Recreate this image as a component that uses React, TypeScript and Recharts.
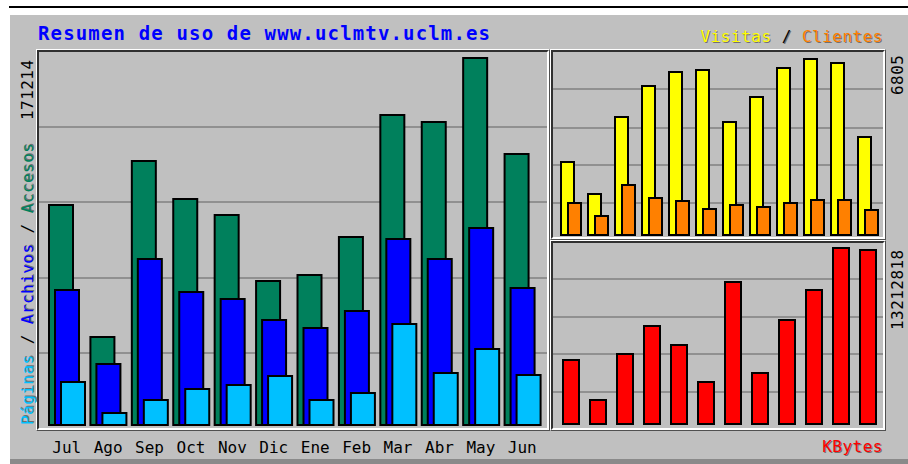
import React from 'react';
import { BarChart, Bar, XAxis, YAxis, CartesianGrid } from 'recharts';

const months = ['Jul', 'Ago', 'Sep', 'Oct', 'Nov', 'Dic', 'Ene', 'Feb', 'Mar', 'Abr', 'May', 'Jun'];
const accesos = [102635, 41054, 123162, 105434, 97970, 67180, 69979, 87707, 144622, 141356, 171214, 126428];
const archivos = [62981, 28458, 77443, 62048, 58782, 48985, 45253, 53184, 86774, 77443, 91905, 63914];
const paginas = [20061, 5598, 11663, 16795, 18661, 22860, 11663, 14929, 47119, 24259, 35456, 23326];
const visitas = [2822, 1585, 4562, 5761, 6302, 6380, 4369, 5336, 6457, 6805, 6650, 3789];
const clientes = [1237, 735, 1933, 1431, 1315, 1005, 1160, 1083, 1237, 1353, 1353, 967];
const kbytes = [4804661, 1801748, 5255098, 7357137, 5930753, 3153059, 10660250, 3828714, 7807574, 10059668, 13212818, 13062672];

const table = months.map((month, i) => ({
  month,
  accesos: accesos[i],
  archivos: archivos[i],
  paginas: paginas[i],
  visitas: visitas[i],
  clientes: clientes[i],
  kbytes: kbytes[i],
}));

const GREY = '#c0c0c0';
const GRID = '#808080';
const MONO = '"DejaVu Sans Mono", "Liberation Mono", monospace';

// sunken double frame like the webalizer graph boxes
const Panel = ({ left, top, width, height }: { left: number; top: number; width: number; height: number }) => (
  <div
    style={{
      position: 'absolute', left, top, width, height, boxSizing: 'border-box',
      borderTop: '1px solid #fff', borderLeft: '1px solid #fff',
      borderBottom: '1px solid #505050', borderRight: '1px solid #505050',
    }}
  >
    <div
      style={{
        width: '100%', height: '100%', boxSizing: 'border-box',
        borderTop: '2px solid #303030', borderLeft: '2px solid #303030',
        borderBottom: '2px solid #fff', borderRight: '2px solid #fff',
      }}
    />
  </div>
);

const UpText = ({ left, bottom, children }: { left: number; bottom: number; children: React.ReactNode }) => (
  <div
    style={{
      position: 'absolute', left, top: bottom, whiteSpace: 'nowrap',
      transformOrigin: 'left top', transform: 'rotate(-90deg)',
      fontFamily: MONO, fontSize: 16, lineHeight: '18px', letterSpacing: 0.45,
    }}
  >
    {children}
  </div>
);

const shadow = '1px 1px 0 #707070';

export default function App() {
  return (
    <div style={{ position: 'absolute', left: 0, top: 0, width: 908, height: 464, background: '#fff', overflow: 'hidden' }}>
      <div style={{ position: 'absolute', left: 9, top: 6, width: 899, height: 2, background: '#000' }} />
      <div style={{ position: 'absolute', left: 10, top: 15, width: 898, height: 449, background: GREY }} />
      <div style={{ position: 'absolute', left: 10, top: 459, width: 898, height: 5, background: '#8a8a8a' }} />

      <Panel left={36} top={49} width={514} height={382} />
      <Panel left={550} top={49} width={336} height={191} />
      <Panel left={550} top={240} width={336} height={191} />

      <div
        style={{
          position: 'absolute', left: 38, top: 23, fontFamily: MONO, fontWeight: 'bold',
          fontSize: 19, lineHeight: '20px', letterSpacing: 1.15, color: '#0000ff', whiteSpace: 'nowrap',
        }}
      >
        Resumen de uso de www.uclmtv.uclm.es
      </div>

      <div
        style={{
          position: 'absolute', right: 25, top: 28, fontFamily: MONO, fontSize: 16,
          lineHeight: '18px', letterSpacing: 0.5, whiteSpace: 'nowrap', textShadow: shadow,
        }}
      >
        <span style={{ color: '#ffff00' }}>Visitas</span>
        <span style={{ color: '#000' }}> / </span>
        <span style={{ color: '#ff8000' }}>Clientes</span>
      </div>

      <div
        style={{
          position: 'absolute', right: 25, top: 438, fontFamily: MONO, fontSize: 16,
          lineHeight: '18px', letterSpacing: 0.5, color: '#ff0000', textShadow: shadow,
        }}
      >
        KBytes
      </div>

      <UpText left={19} bottom={425}>
        <span style={{ color: '#00c0ff', textShadow: shadow }}>Páginas</span>
        <span style={{ color: '#000' }}> / </span>
        <span style={{ color: '#0000ff', textShadow: shadow }}>Archivos</span>
        <span style={{ color: '#000' }}> / </span>
        <span style={{ color: '#00805c', textShadow: shadow }}>Accesos</span>
      </UpText>
      <UpText left={19} bottom={120}>171214</UpText>
      <UpText left={889} bottom={95}>6805</UpText>
      <UpText left={889} bottom={330}>13212818</UpText>

      <div style={{ position: 'absolute', left: 39, top: 52 }}>
        <BarChart
          width={508}
          height={408}
          data={table}
          margin={{ top: 0, right: 0, bottom: 0, left: 0 }}
          barSize={24}
          barGap={-18}
        >
          <CartesianGrid vertical={false} horizontalPoints={[75, 150, 226, 301]} stroke={GRID} strokeWidth={1.5} />
          <XAxis
            dataKey="month"
            height={35}
            padding={{ left: 7, right: 4 }}
            axisLine={false}
            tickLine={false}
            tickSize={0}
            tickMargin={17}
            interval={0}
            tick={{ fill: '#000', fontSize: 16, fontFamily: MONO }}
          />
          <YAxis hide domain={[0, (m: number) => (m * 373) / 367]} />
          <Bar dataKey="accesos" fill="#00805c" stroke="#000" strokeWidth={2} isAnimationActive={false} />
          <Bar dataKey="archivos" fill="#0000ff" stroke="#000" strokeWidth={2} isAnimationActive={false} />
          <Bar dataKey="paginas" fill="#00c0ff" stroke="#000" strokeWidth={2} isAnimationActive={false} />
        </BarChart>
      </div>

      <div style={{ position: 'absolute', left: 553, top: 52 }}>
        <BarChart
          width={330}
          height={185}
          data={table}
          margin={{ top: 0, right: 0, bottom: 2, left: 0 }}
          barSize={13}
          barGap={-6}
        >
          <CartesianGrid vertical={false} horizontalPoints={[37, 76, 113, 151]} stroke={GRID} strokeWidth={1.5} />
          <XAxis dataKey="month" hide padding={{ left: 4, right: 2 }} />
          <YAxis hide domain={[0, (m: number) => (m * 183) / 176]} />
          <Bar dataKey="visitas" fill="#ffff00" stroke="#000" strokeWidth={2} isAnimationActive={false} />
          <Bar dataKey="clientes" fill="#ff8000" stroke="#000" strokeWidth={2} isAnimationActive={false} />
        </BarChart>
      </div>

      <div style={{ position: 'absolute', left: 553, top: 243 }}>
        <BarChart
          width={330}
          height={185}
          data={table}
          margin={{ top: 0, right: 0, bottom: 4, left: 0 }}
          barSize={16}
        >
          <CartesianGrid vertical={false} horizontalPoints={[36, 74, 111, 149]} stroke={GRID} strokeWidth={1.5} />
          <XAxis dataKey="month" hide padding={{ left: 4, right: 2 }} />
          <YAxis hide domain={[0, (m: number) => (m * 181) / 176]} />
          <Bar dataKey="kbytes" fill="#ff0000" stroke="#000" strokeWidth={2} isAnimationActive={false} />
        </BarChart>
      </div>
    </div>
  );
}
